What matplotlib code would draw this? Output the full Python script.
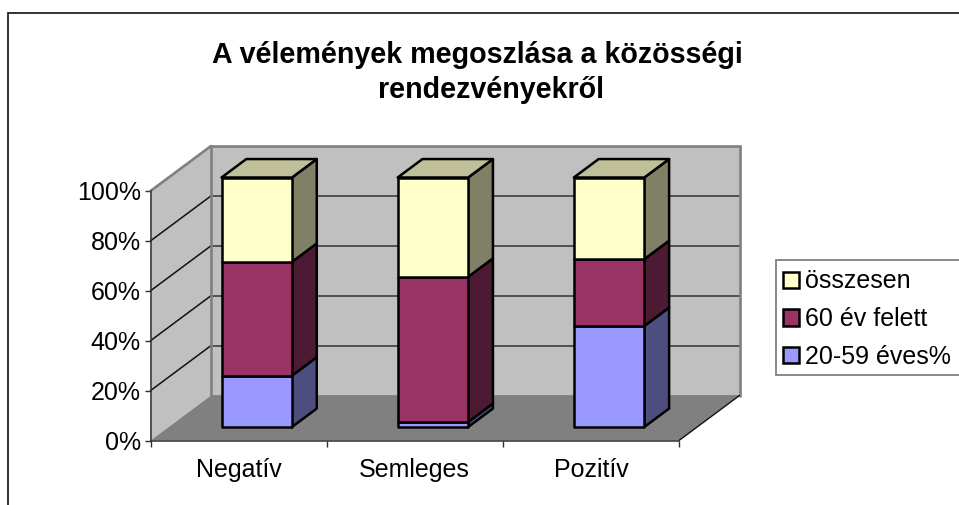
import matplotlib
matplotlib.use('Agg')
import matplotlib.pyplot as plt
from matplotlib.patches import Patch, Rectangle

plt.rcParams['font.family'] = ['Liberation Sans', 'DejaVu Sans']

kategoriak = ['Negatív', 'Semleges', 'Pozitív']
sorozatok = ['20-59 éves%', '60 év felett', 'összesen']
fiatal = [20.6, 2.0, 40.5]
idos = [45.6, 58.2, 26.8]
osszesen = [33.8, 39.8, 32.7]
ertekek = [fiatal, idos, osszesen]

szinek = ['#9999ff', '#993366', '#ffffcc']
oldal_szinek = ['#4d4d80', '#4d1a33', '#808066']
teto_szin = '#bfbf99'

W, H = 959, 505
fig = plt.figure(figsize=(W / 100, H / 100), dpi=100)

# front plane of the 3D box, in pixels
x0, x1 = 150.5, 679
y0, y1 = 440.5, 191
ax = fig.add_axes([x0 / W, 1 - y0 / H, (x1 - x0) / W, (y0 - y1) / H])
ax.set_xlim(0, 3)
ax.set_ylim(0, 100)
ax.patch.set_visible(False)

# full depth of the box in data units
dx = 60.5 / ((x1 - x0) / 3)
dy = 45 / ((y0 - y1) / 100)


def vetit(x, y, d):
    return x + dx * d, y + dy * d


def lap(pontok, szin, **kw):
    xy = [vetit(*p) for p in pontok]
    ax.fill([p[0] for p in xy], [p[1] for p in xy], facecolor=szin, clip_on=False, **kw)


def vonal(p, q, szin, lw):
    a, b = vetit(*p), vetit(*q)
    ax.plot([a[0], b[0]], [a[1], b[1]], color=szin, lw=lw, clip_on=False, solid_capstyle='round', zorder=2)


# walls and floor
lap([(0, 0, 0), (0, 100, 0), (0, 100, 1), (0, 0, 1)], '#c0c0c0', edgecolor='none', zorder=1)
lap([(0, 0, 1), (0, 100, 1), (3, 100, 1), (3, 0, 1)], '#c0c0c0', edgecolor='none', zorder=1)
lap([(0, 0, 0), (3, 0, 0), (3, 0, 1), (0, 0, 1)], '#808080', edgecolor='none', zorder=1)

for y in [20, 40, 60, 80]:
    vonal((0, y, 0), (0, y, 1), '#111111', 1.1)
    vonal((0, y, 1), (3, y, 1), '#333333', 1.1)

vonal((0, 100, 0), (0, 100, 1), '#808080', 1.9)
vonal((0, 100, 1), (3, 100, 1), '#808080', 1.9)
vonal((0, 0, 1), (0, 100, 1), '#808080', 1.9)
vonal((3, 0, 1), (3, 100, 1), '#808080', 1.9)
vonal((0, 0, 1), (3, 0, 1), '#808080', 1.2)
vonal((3, 0, 0), (3, 0, 1), '#111111', 1)

# stacked bars
szel = 0.4
d1, d2 = 0.3, 0.71
for i in range(len(kategoriak)):
    bal = i + 0.5 - szel / 2
    jobb = bal + szel
    alja = 0
    for s in range(len(sorozatok)):
        teteje = alja + ertekek[s][i]
        lap([(jobb, alja, d1), (jobb, alja, d2), (jobb, teteje, d2), (jobb, teteje, d1)], oldal_szinek[s],
            edgecolor='black', lw=1.8, joinstyle='round', zorder=3)
        lap([(bal, alja, d1), (jobb, alja, d1), (jobb, teteje, d1), (bal, teteje, d1)], szinek[s],
            edgecolor='black', lw=1.8, joinstyle='round', zorder=4)
        alja = teteje
    lap([(bal, alja, d1), (jobb, alja, d1), (jobb, alja, d2), (bal, alja, d2)], teto_szin,
        edgecolor='black', lw=1.8, joinstyle='round', zorder=4)

# axes
for nev in ['top', 'right']:
    ax.spines[nev].set_visible(False)
for nev in ['left', 'bottom']:
    ax.spines[nev].set_color('#303030')
    ax.spines[nev].set_linewidth(1.1)
    ax.spines[nev].set_zorder(2.5)

ax.set_yticks([0, 20, 40, 60, 80, 100])
ax.set_yticklabels(['0%', '20%', '40%', '60%', '80%', '100%'], fontsize=18, color='black')
ax.set_xticks([0, 1, 2, 3])
ax.set_xticklabels([])
ax.tick_params(axis='both', length=4, width=1, color='#303030', pad=3)
for i, nev in enumerate(kategoriak):
    ax.annotate(nev, (i + 0.5, 0), xytext=(0, -12.6), textcoords='offset points', ha='center', va='top',
                fontsize=18, annotation_clip=False)

# the second title line sits off centre in the original
fig.text(477 / W, 1 - 55 / H, 'A vélemények megoszlása a közösségi', ha='center', va='center',
         fontsize=20.6, fontweight='bold')
fig.text(491 / W, 1 - 90 / H, 'rendezvényekről', ha='center', va='center',
         fontsize=20.6, fontweight='bold')

# legend, top series first as in the original; its box runs off the right edge
fig.add_artist(Rectangle((776 / W, 1 - 375 / H), 0.3, 115 / H, transform=fig.transFigure, facecolor='white',
                         edgecolor='#808080', lw=1.3))
kezek = [Patch(facecolor=szinek[s], edgecolor='black', lw=1.8) for s in [2, 1, 0]]
cimkek = [sorozatok[s] for s in [2, 1, 0]]
fig.legend(kezek, cimkek, loc='upper left', bbox_to_anchor=(775.5 / W, 1 - 262 / H), bbox_transform=fig.transFigure,
           fontsize=18, frameon=False, borderaxespad=0, borderpad=0.3,
           handlelength=0.62, handleheight=0.62, handletextpad=0.26, labelspacing=0.55)

# chart frame
fig.add_artist(Rectangle((8 / W, -0.1), 1, 1 - 13 / H + 0.1, transform=fig.transFigure, fill=False,
                         edgecolor='#222222', lw=1.3))

fig.savefig('out.png', dpi=100)
